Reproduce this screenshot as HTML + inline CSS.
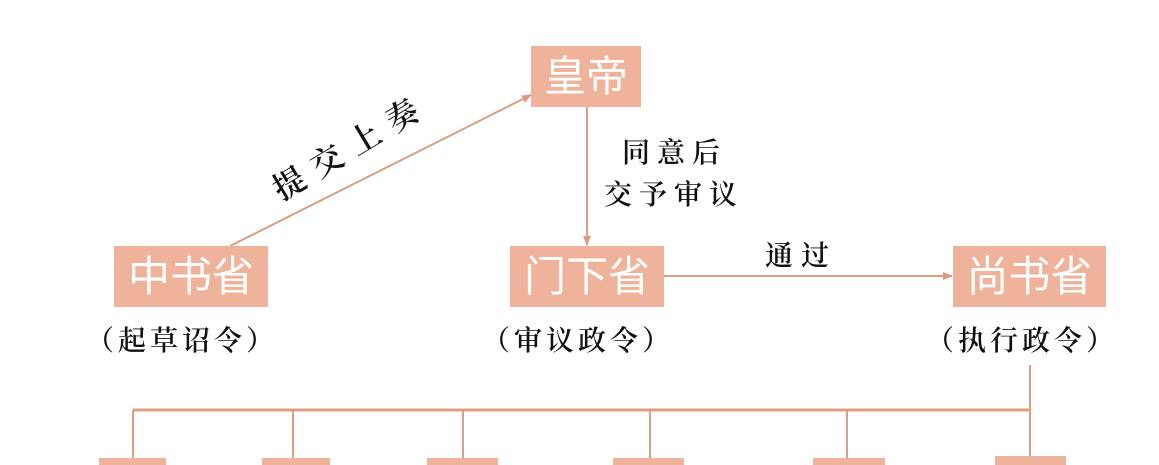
<!DOCTYPE html>
<html><head><meta charset="utf-8"><style>
body{margin:0;width:1159px;height:465px;background:#fff;overflow:hidden;position:relative;font-family:"Liberation Sans","Noto Sans CJK SC",sans-serif}
.b{position:absolute;background:#efb39b;color:#fff;font-size:42px;text-align:center;line-height:61px;height:61px}
.t{position:absolute;font-family:"Noto Serif CJK SC",serif;font-size:28px;color:#111;white-space:nowrap;line-height:34px;font-weight:600}
</style></head><body>
<svg width="1159" height="465" style="position:absolute;left:0;top:0">
<defs><marker id="a" markerWidth="10" markerHeight="10" refX="9" refY="5" orient="auto" markerUnits="userSpaceOnUse"><path d="M0,1 L10,5 L0,9z" fill="#d99a7e"/></marker></defs>
<g stroke="#dc9e82" stroke-width="2" fill="none">
<line x1="230" y1="246" x2="531" y2="95" marker-end="url(#a)"/>
<line x1="587" y1="106" x2="587" y2="245" marker-end="url(#a)"/>
<line x1="664" y1="276" x2="952" y2="276" marker-end="url(#a)"/>
<line x1="1030" y1="365" x2="1030" y2="458"/>
<line x1="133" y1="410" x2="1030" y2="410" stroke-width="3"/>
<line x1="133" y1="410" x2="133" y2="458"/>
<line x1="293" y1="410" x2="293" y2="458"/>
<line x1="463" y1="410" x2="463" y2="458"/>
<line x1="650" y1="410" x2="650" y2="458"/>
<line x1="847" y1="410" x2="847" y2="458"/>
</g>
<g fill="#efb39b">
<rect x="99" y="458" width="67" height="10"/><rect x="262" y="458" width="68" height="10"/>
<rect x="427" y="458" width="71" height="10"/><rect x="613" y="458" width="71" height="10"/>
<rect x="813" y="458" width="72" height="10"/><rect x="995" y="456" width="71" height="12"/>
</g>
</svg>
<div class="b" style="left:531px;top:46px;width:110px">皇帝</div>
<div class="b" style="left:114px;top:246px;width:154px">中书省</div>
<div class="b" style="left:510px;top:246px;width:154px">门下省</div>
<div class="b" style="left:953px;top:246px;width:153px">尚书省</div>
<div class="t" style="left:250px;top:128px;width:200px;text-align:center;font-size:32px;letter-spacing:12px;transform:rotate(-31deg);transform-origin:50% 50%">提交上奏</div>
<div class="t" style="left:622px;top:134px;letter-spacing:7px">同意后</div>
<div class="t" style="left:604px;top:176px;letter-spacing:7px">交予审议</div>
<div class="t" style="left:765px;top:237px;letter-spacing:8px">通过</div>
<div class="t" style="left:86px;top:322px;letter-spacing:4px">（起草诏令）</div>
<div class="t" style="left:482px;top:322px;letter-spacing:4px">（审议政令）</div>
<div class="t" style="left:926px;top:322px;letter-spacing:4px">（执行政令）</div>
</body></html>
